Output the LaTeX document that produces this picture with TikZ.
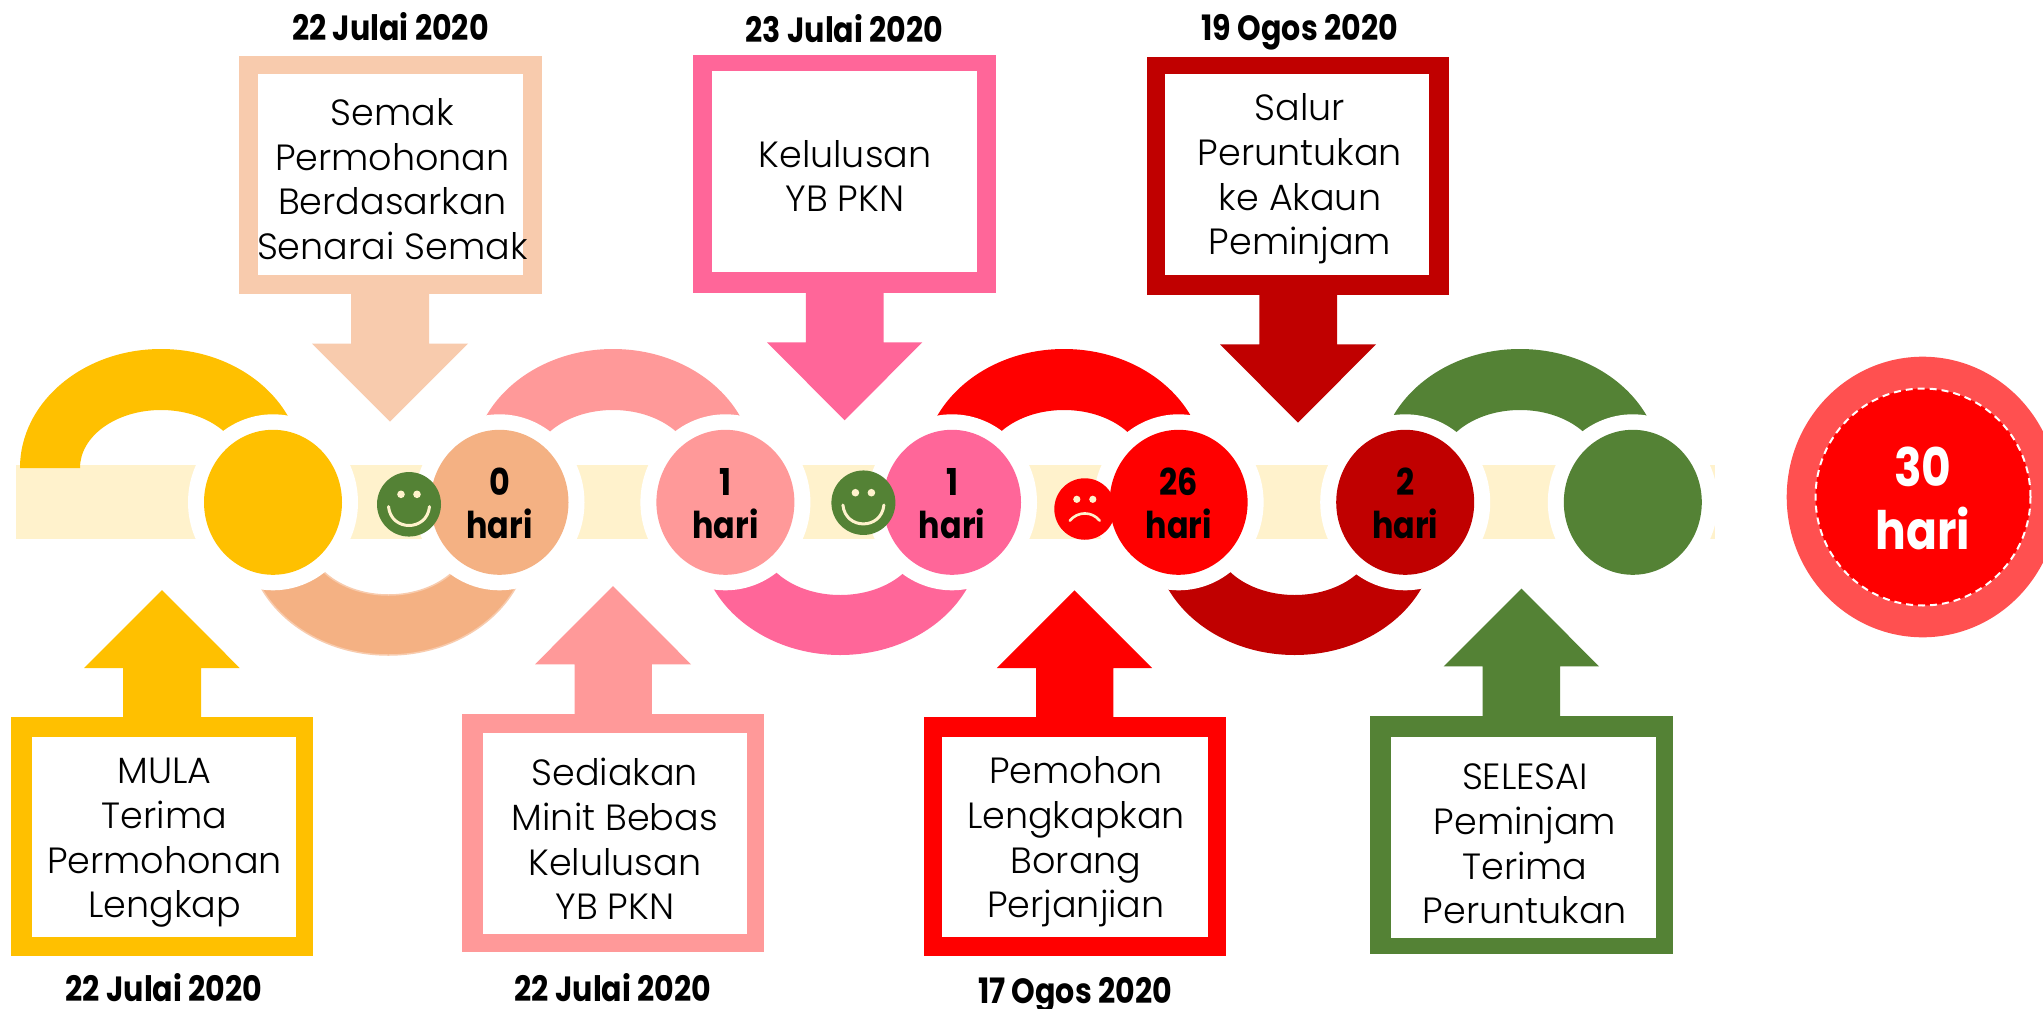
\documentclass[tikz,border=0pt]{standalone}
\usepackage{fontspec}
\usetikzlibrary{shapes.geometric}
\setmainfont{Poppins}
\newfontfamily\lightf{Poppins Light}
\newfontfamily\boldf{Poppins}[FakeStretch=0.86,UprightFont={* Bold}]
\definecolor{cyel}{HTML}{FFC000}
\definecolor{cpeachl}{HTML}{F8CBAD}
\definecolor{cpeach}{HTML}{F4B183}
\definecolor{csal}{HTML}{FF9999}
\definecolor{cpink}{HTML}{FF6699}
\definecolor{cred}{HTML}{FF0000}
\definecolor{cdark}{HTML}{C00000}
\definecolor{cgreen}{HTML}{548235}
\definecolor{ccream}{HTML}{FFF2CC}
\definecolor{cring}{HTML}{FF5050}
\tikzset{
  step circle/.style={ellipse,inner sep=0pt,minimum width=138pt,minimum height=145pt},
  halo/.style={ellipse,inner sep=0pt,fill=white,minimum width=170pt,minimum height=176pt},
  face/.style={ellipse,inner sep=0pt,minimum width=64pt,minimum height=64.5pt},
  faceline/.style={ccream,line cap=round,line width=3pt},
  body text/.style={font=\lightf\fontsize{36.5}{44.7}\selectfont,align=center,black,inner sep=0pt,anchor=center},
  date text/.style={font=\boldf\fontsize{35}{40}\selectfont,black,inner sep=0pt,anchor=base},
  day text/.style={font=\boldf\fontsize{37}{40}\selectfont,black,inner sep=0pt,anchor=base},
  total text/.style={font=\boldf\fontsize{53}{60}\selectfont,white,inner sep=0pt,anchor=base},
}
% top arc: centre x, colour
\newcommand\toparc[2]{\fill[#2] (#1-141,468) arc[start angle=180,end angle=0,x radius=141pt,y radius=119pt] -- (#1+81,468) arc[start angle=0,end angle=180,x radius=81pt,y radius=58pt] -- cycle;}
\newcommand\botarc[3][]{\fill[#3,#1] (#2-141,536.6) arc[start angle=180,end angle=360,x radius=141pt,y radius=118.4pt] -- (#2+81,536.6) arc[start angle=360,end angle=180,x radius=81pt,y radius=58.4pt] -- cycle;}
% box: colour, outer x1 y1 x2 y2, inner x1 y1 x2 y2
\newcommand\calloutframe[9]{\fill[#1] (#2,#3) rectangle (#4,#5); \fill[white] (#6,#7) rectangle (#8,#9);}
% block arrow: colour, tip x,y, base y of head, head x1,x2, shaft x1,x2, shaft end y
\newcommand\blockarrow[9]{\fill[#1] (#2,#3) -- (#6,#4) -- (#8,#4) -- (#8,#9) -- (#7,#9) -- (#7,#4) -- (#5,#4) -- cycle;}
\begin{document}
\begin{tikzpicture}[x=1pt,y=-1pt]
\useasboundingbox (0,0) rectangle (2043,1009);
\clip (0,0) rectangle (2043,1009);
\fill[white] (0,0) rectangle (2043,1009);
% band
\fill[ccream] (16,465.3) rectangle (1715,539.3);
% arcs
\toparc{161}{cyel}
\toparc{613}{csal}
\toparc{1064}{cred}
\toparc{1520}{cgreen}
\botarc[draw=cpeachl,line width=1.5pt]{388.4}{cpeach}
\botarc{840.2}{cpink}
\botarc{1294.6}{cdark}
% halos
\foreach \n/\x in {a/273,b/499.5,c/725.4,d/952,e/1178.6,f/1405.2,g/1632.8}
  \node[halo] (halo\n) at (\x,502.3) {};
% circles
\node[step circle,fill=cyel] (c1) at (273,502.3) {};
\node[step circle,fill=cpeach] (c2) at (499.5,502.3) {};
\node[step circle,fill=csal] (c3) at (725.4,502.3) {};
\node[step circle,fill=cpink] (c4) at (952,502.3) {};
\node[step circle,fill=cred] (c5) at (1178.6,502.3) {};
\node[step circle,fill=cdark] (c6) at (1405.2,502.3) {};
\node[step circle,fill=cgreen] (c7) at (1632.8,502.3) {};
% faces
\foreach \n/\x/\y in {s1/409/504.3,s2/863.4/502.7}{
  \node[face,fill=cgreen] (\n) at (\x,\y) {};
  \begin{scope}[shift={(\x,\y)}]
    \fill[ccream] (-8,-10) ellipse [x radius=3.8pt,y radius=3.8pt];
    \fill[ccream] (8,-10) ellipse [x radius=3.8pt,y radius=3.8pt];
    \draw[faceline] (-20.5,2.3) .. controls (-18,27.5) and (18,27.5) .. (20.5,2.3);
  \end{scope}
}
\node[face,fill=cred,minimum width=61pt,minimum height=61.5pt] (s3) at (1084.8,509) {};
\begin{scope}[shift={(1084.8,509)}]
  \fill[ccream] (-8,-9.7) ellipse [x radius=3.6pt,y radius=3.6pt];
  \fill[ccream] (8,-9.7) ellipse [x radius=3.6pt,y radius=3.6pt];
  \draw[faceline,line width=2.6pt] (-15,11.7) .. controls (-7,2) and (7,2) .. (15,11.7);
\end{scope}
% day labels
\node[day text] (d1a) at (499.5,495) {0};
\node[day text] (d1b) at (499.5,538) {hari};
\node[day text] (d2a) at (725.4,495) {1};
\node[day text] (d2b) at (725.4,538) {hari};
\node[day text] (d3a) at (952,495) {1};
\node[day text] (d3b) at (952,538) {hari};
\node[day text] (d4a) at (1178.6,495) {26};
\node[day text] (d4b) at (1178.6,538) {hari};
\node[day text] (d5a) at (1405.2,495) {2};
\node[day text] (d5b) at (1405.2,538) {hari};
% total
\node[ellipse,inner sep=0pt,fill=cring,minimum width=272pt,minimum height=280.6pt] (tot) at (1922.7,497) {};
\node[ellipse,inner sep=0pt,fill=cred,draw=white,line width=2pt,dash pattern=on 7pt off 5pt,minimum width=215pt,minimum height=217pt] (totin) at (1923,497) {};
\node[total text] (t1) at (1923,486.7) {30};
\node[total text] (t2) at (1923,549) {hari};
% upper call-outs
\calloutframe{cpeachl}{239}{56}{541.5}{294}{258}{74}{522.5}{275}
\blockarrow{cpeachl}{390}{421.7}{343.7}{312}{468}{351}{429}{290}
\calloutframe{cpink}{692.7}{55}{995.7}{293}{712}{71}{976.7}{272.3}
\blockarrow{cpink}{844.6}{420.3}{342.3}{767}{922.3}{805.8}{883.5}{290}
\calloutframe{cdark}{1146.7}{57}{1449.3}{295.3}{1164.7}{74}{1429}{275}
\blockarrow{cdark}{1298}{422.7}{344.3}{1220}{1376}{1259.4}{1337}{290}
% lower call-outs
\calloutframe{cyel}{11}{717.3}{313}{955.7}{31.6}{736.7}{296}{937.3}
\blockarrow{cyel}{162}{590}{668}{84}{239.7}{123}{201}{720}
\calloutframe{csal}{462}{713.7}{764}{951.7}{482.6}{733.3}{747}{934.3}
\blockarrow{csal}{613}{586}{664.3}{535}{691}{574.5}{651.8}{716}
\calloutframe{cred}{923.5}{717.3}{1226}{955.7}{942.3}{736.7}{1207.7}{937.3}
\blockarrow{cred}{1074.5}{590.3}{668}{996.9}{1152}{1036}{1113.4}{720}
\calloutframe{cgreen}{1370}{716}{1673}{954}{1390.8}{737}{1655.6}{937.7}
\blockarrow{cgreen}{1521.5}{588.7}{666.3}{1443.7}{1599}{1482.6}{1560}{719}
% texts
\node[body text] (b1) at (392.4,179) {Semak\\Permohonan\\Berdasarkan\\Senarai Semak};
\node[body text] (b2) at (845,176) {Kelulusan\\YB PKN};
\node[body text] (b3) at (1300,179) {Salur\\Peruntukan\\ke Akaun\\Peminjam};
\node[body text] (b4) at (164.5,843) {MULA\\Terima\\Permohonan\\Lengkap};
\node[body text] (b5) at (614.8,839) {Sediakan\\Minit Bebas\\Kelulusan\\YB PKN};
\node[body text] (b6) at (1076,842) {Pemohon\\Lengkapkan\\Borang\\Perjanjian};
\node[body text] (b7) at (1525,844) {SELESAI\\Peminjam\\Terima\\Peruntukan};
% dates
\node[date text] (e1) at (390.5,40.7) {22 Julai 2020};
\node[date text] (e2) at (844.5,42.3) {23 Julai 2020};
\node[date text] (e3) at (1299.7,40.7) {19 Ogos 2020};
\node[date text] (e4) at (164,1001.7) {22 Julai 2020};
\node[date text] (e5) at (613,1001.7) {22 Julai 2020};
\node[date text] (e6) at (1075,1003.3) {17 Ogos 2020};
\end{tikzpicture}
\end{document}
